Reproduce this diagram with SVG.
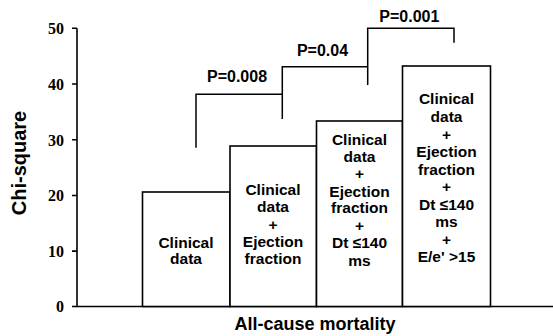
<svg xmlns="http://www.w3.org/2000/svg" width="553" height="336" viewBox="0 0 553 336">
<style>
.ax{stroke:#000;stroke-width:1.6;fill:none}
.bar{stroke:#000;stroke-width:1.6;fill:#fff}
.br{stroke:#000;stroke-width:1.5;fill:none}
.tk{font-family:"Liberation Serif",serif;font-weight:bold;font-size:16px;text-anchor:end;fill:#000}
.bt{font-family:"Liberation Sans",Arial,sans-serif;font-weight:bold;font-size:15.5px;text-anchor:middle;fill:#000}
.pl{font-family:"Liberation Sans",Arial,sans-serif;font-weight:bold;font-size:16px;text-anchor:middle;fill:#000}
.ttl{font-family:"Liberation Sans",Arial,sans-serif;font-weight:bold;font-size:18px;text-anchor:middle;fill:#000}
</style>
<rect width="553" height="336" fill="#fff"/>
<g id="axes">
<path class="ax" d="M77,28.3V306.5H553"/>
<path class="ax" d="M72,28.3H77M72,84H77M72,139.8H77M72,195.5H77M72,251.1H77M72,306.5H77"/>
<text class="tk" x="64" y="34">50</text>
<text class="tk" x="64" y="89.7">40</text>
<text class="tk" x="64" y="145.5">30</text>
<text class="tk" x="64" y="201.2">20</text>
<text class="tk" x="64" y="256.8">10</text>
<text class="tk" x="64" y="312.2">0</text>
<text class="ttl" transform="translate(25.5,163) rotate(-90)" style="font-size:20px">Chi-square</text>
<text class="ttl" x="315" y="330">All-cause mortality</text>
</g>
<g id="bar1">
<rect class="bar" x="142.5" y="192" width="87.5" height="114.5"/>
<text class="bt" x="186" y="248.3">Clinical</text>
<text class="bt" x="186" y="264.3">data</text>
</g>
<g id="bar2">
<rect class="bar" x="230" y="146" width="86.5" height="160.5"/>
<text class="bt" x="273" y="195">Clinical</text>
<text class="bt" x="273" y="212.3">data</text>
<text class="bt" x="273" y="229.5">+</text>
<text class="bt" x="273" y="246.8">Ejection</text>
<text class="bt" x="273" y="264.3">fraction</text>
</g>
<g id="bar3">
<rect class="bar" x="316.5" y="121" width="86" height="185.5"/>
<text class="bt" x="359.5" y="145">Clinical</text>
<text class="bt" x="359.5" y="161.5">data</text>
<text class="bt" x="359.5" y="179">+</text>
<text class="bt" x="359.5" y="196.7">Ejection</text>
<text class="bt" x="359.5" y="213.3">fraction</text>
<text class="bt" x="359.5" y="231">+</text>
<text class="bt" x="359.5" y="248.3">Dt ≤140</text>
<text class="bt" x="359.5" y="266">ms</text>
</g>
<g id="bar4">
<rect class="bar" x="402.5" y="66" width="88" height="240.5"/>
<text class="bt" x="446.5" y="104.3">Clinical</text>
<text class="bt" x="446.5" y="121.7">data</text>
<text class="bt" x="446.5" y="139.5">+</text>
<text class="bt" x="446.5" y="157">Ejection</text>
<text class="bt" x="446.5" y="174.5">fraction</text>
<text class="bt" x="446.5" y="192">+</text>
<text class="bt" x="446.5" y="209.7">Dt ≤140</text>
<text class="bt" x="446.5" y="226.7">ms</text>
<text class="bt" x="446.5" y="244.5">+</text>
<text class="bt" x="446.5" y="261.7">E/e' &gt;15</text>
</g>
<g id="connectors">
<path class="br" d="M196,147.7V94.3H282.3"/>
<path class="br" d="M282.3,119V66.7H367.7"/>
<path class="br" d="M367.7,85V28.3H454V42.7"/>
<text class="pl" x="237" y="81.7">P=0.008</text>
<text class="pl" x="322.5" y="55.7">P=0.04</text>
<text class="pl" x="409.3" y="22.3">P=0.001</text>
</g>
</svg>
